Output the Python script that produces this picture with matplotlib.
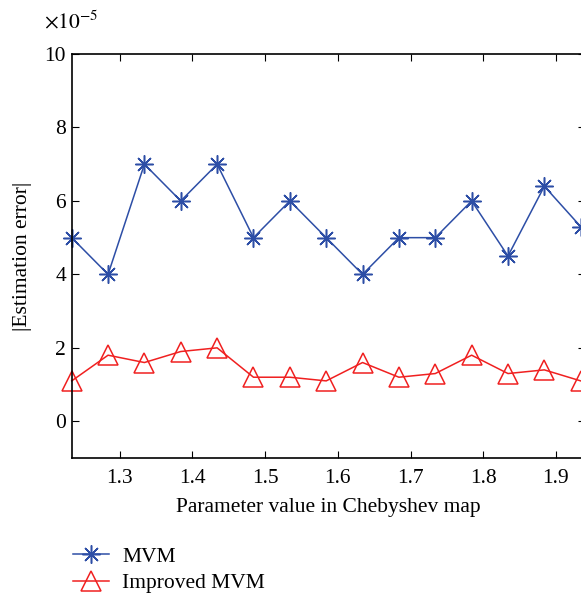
import matplotlib
matplotlib.use('Agg')
import matplotlib.pyplot as plt

plt.rcParams['font.family'] = ['Liberation Serif', 'DejaVu Serif']
plt.rcParams['mathtext.fontset'] = 'stix'

# parameter values of the Chebyshev map
param = [1.234, 1.284, 1.334, 1.384, 1.434, 1.484, 1.534, 1.584,
         1.634, 1.684, 1.734, 1.784, 1.834, 1.884, 1.934]
# |estimation error| in units of 1e-5
mvm = [5, 4, 7, 6, 7, 5, 6, 5, 4, 5, 5, 6, 4.5, 6.4, 5.3]
improved = [1.1, 1.8, 1.6, 1.9, 2.0, 1.2, 1.2, 1.1, 1.6, 1.2, 1.3, 1.8, 1.3, 1.4, 1.1]

xticks = [1.3, 1.4, 1.5, 1.6, 1.7, 1.8, 1.9]
yticks = [0, 2, 4, 6, 8, 10]

fs = 15.5

fig = plt.figure(figsize=(5.81, 5.97), dpi=100)
ax = fig.add_axes([0.1234, 0.2328, 0.8836, 0.6767])

ax.plot(param, mvm, color='#2d4ea6', lw=1.1, marker=(8, 2, 0), ms=13,
        mew=1.1, label='MVM', clip_on=False)
ax.plot(param, improved, color='#f02020', lw=1.1, marker='^', ms=14,
        mfc='none', mew=1.1, label='Improved MVM', clip_on=False)

ax.set_xlim(1.234, 1.94)
ax.set_ylim(-1, 10)
ax.set_xticks(xticks)
ax.set_xticklabels(['%.1f' % t for t in xticks])
ax.set_yticks(yticks)
ax.tick_params(direction='in', top=True, right=True, length=5, labelsize=fs, pad=8)
ax.tick_params(axis='y', pad=4)
for s in ax.spines.values():
    s.set_linewidth(1.2)

ax.set_xlabel('Parameter value in Chebyshev map', fontsize=fs, labelpad=7)
ax.set_ylabel('|Estimation error|', fontsize=fs, labelpad=9)
fig.text(0.076, 0.963, r'$\times 10^{-5}$', fontsize=fs, va='center')

fig.legend(loc='lower left', bbox_to_anchor=(0.092, -0.026), frameon=False,
           fontsize=fs, handlelength=1.7, handletextpad=0.6,
           labelspacing=0.3, borderaxespad=0.5)

fig.savefig('out.png', dpi=100)
